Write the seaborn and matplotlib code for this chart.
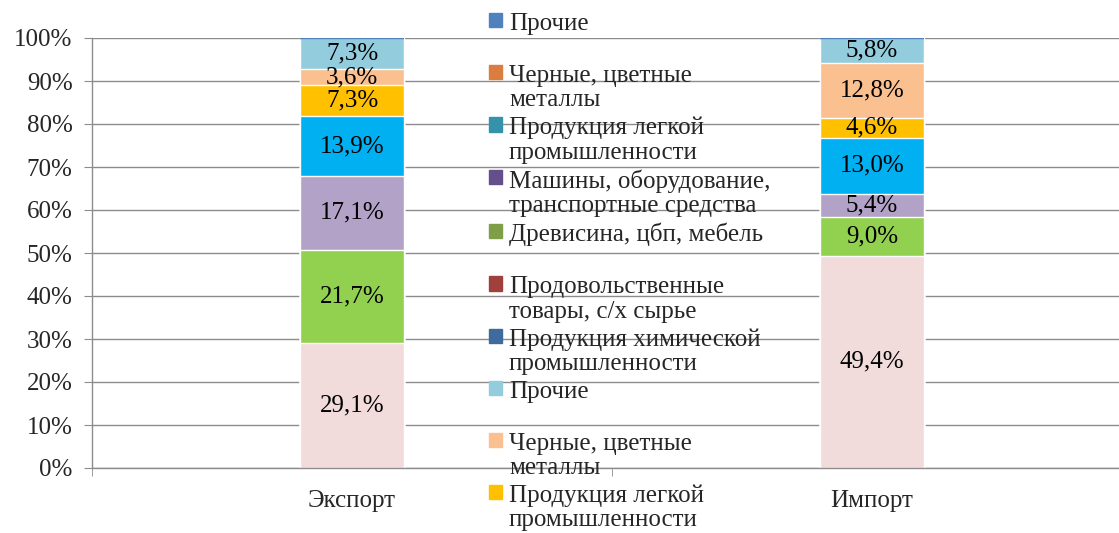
import matplotlib
matplotlib.use("Agg")
import matplotlib.pyplot as plt
import seaborn as sns
import numpy as np
from matplotlib.patches import Patch, Rectangle
from matplotlib.legend_handler import HandlerPatch

sns.set_style("white")
plt.rcParams['font.family'] = ['Liberation Serif', 'DejaVu Serif']

categories = ["Экспорт", "Импорт"]
# series from bottom of the stack to the top
names = ["Продукция химической\nпромышленности",
         "Продовольственные\nтовары, с/х сырье",
         "Древисина, цбп, мебель",
         "Машины, оборудование,\nтранспортные средства",
         "Продукция легкой\nпромышленности",
         "Черные, цветные\nметаллы",
         "Прочие"]
export_share = [29.1, 21.7, 17.1, 13.9, 7.3, 3.6, 7.3]
import_share = [49.4, 9.0, 5.4, 13.0, 4.6, 12.8, 5.8]
# second set of series in the source workbook is empty
empty_export = [0, 0, 0, 0, 0, 0, 0]
empty_import = [0, 0, 0, 0, 0, 0, 0]

light_colors = ["#F2DCDB", "#92D050", "#B3A2C7", "#00B0F0", "#FFC000", "#FAC090", "#93CDDD"]
dark_colors = ["#3F6A9E", "#A0403D", "#7E9F48", "#654F8A", "#3592AB", "#DA7D3E", "#4F81BD"]

FS = 18

fig = plt.figure(figsize=(11.19, 5.33), dpi=100)
ax = fig.add_axes([92 / 1119, 65 / 533, 1040 / 1119, 430 / 533])

vals = np.array([export_share, import_share]).T  # shape (7, 2)
cum = vals.cumsum(axis=0)

# stacked bars: draw cumulative totals from top down
for i in reversed(range(len(names))):
    sns.barplot(x=categories, y=cum[i], color=light_colors[i], saturation=1,
                width=0.2, ax=ax, order=categories, zorder=2)

# empty series sit on top of the stack as zero-height bars
empty = np.array([empty_export, empty_import]).T
top = cum[-1]
for i in range(len(names)):
    ax.bar(range(2), empty[i], bottom=top + empty[:i + 1].sum(axis=0), width=0.2,
           color=dark_colors[i], edgecolor=dark_colors[i], linewidth=1.5, zorder=3)

for i in range(len(names)):
    for j in range(2):
        v = vals[i, j]
        ax.text(j, cum[i, j] - v / 2, f"{v:.1f}".replace(".", ",") + "%",
                ha="center", va="center", fontsize=FS, color="black", zorder=4)

ax.set_xlim(-0.5, 1.5)
ax.set_ylim(0, 100)
ax.set_yticks(np.arange(0, 101, 10))
ax.set_yticklabels([f"{t}%" for t in range(0, 101, 10)])
ax.yaxis.grid(True, color="#8C8C8C", linewidth=1)
ax.set_axisbelow(True)
ax.set_xlabel("")
ax.set_ylabel("")
for s in ["top", "right"]:
    ax.spines[s].set_visible(False)
for s in ["left", "bottom"]:
    ax.spines[s].set_color("#8C8C8C")
    ax.spines[s].set_linewidth(1)
ax.tick_params(axis="y", length=6, color="#8C8C8C", labelsize=FS, pad=8, left=True)
ax.tick_params(axis="x", which="major", length=0, labelsize=FS, pad=16)
ax.set_xticks([-0.5, 0.5, 1.5], minor=True)
ax.tick_params(axis="x", which="minor", length=6, color="#8C8C8C", bottom=True)


def first_line_square(legend, orig_handle, xdescent, ydescent, width, height, fontsize):
    return Rectangle((-xdescent, -ydescent + 0.62 * fontsize), width, height)


# legend lists series top-down; the picture shows its first ten entries
legend_labels = []
legend_handles = []
for i in reversed(range(len(names))):
    legend_handles.append(Patch(color=dark_colors[i]))
    legend_labels.append(names[i] if "\n" in names[i] else names[i] + "\n")
for i in reversed(range(len(names))):
    legend_handles.append(Patch(color=light_colors[i]))
    legend_labels.append(names[i] if "\n" in names[i] else names[i] + "\n")
legend_handles = legend_handles[:10]
legend_labels = legend_labels[:10]

leg = fig.legend(legend_handles, legend_labels, loc="upper left",
                 bbox_to_anchor=(489 / 1119, 1 - 13 / 533), frameon=False,
                 fontsize=FS, handlelength=0.5, handleheight=0.5,
                 handletextpad=0.3, labelspacing=0.23, borderpad=0, borderaxespad=0,
                 handler_map={Patch: HandlerPatch(patch_func=first_line_square)})
for t in leg.get_texts():
    t.set_linespacing(1.13)

fig.savefig("out.png", dpi=100)
